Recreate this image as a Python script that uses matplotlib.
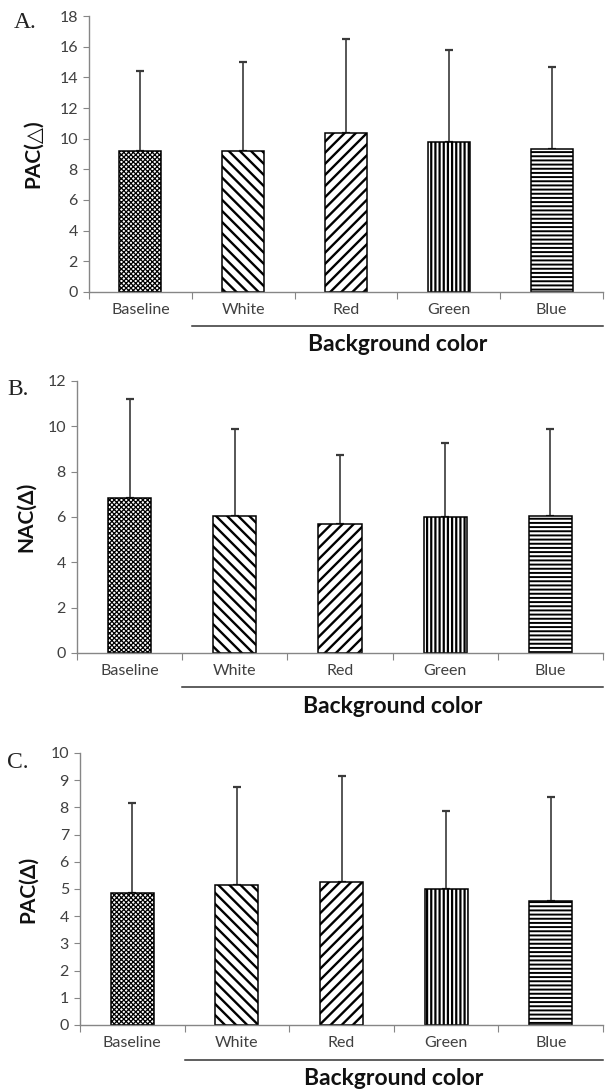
import matplotlib
matplotlib.use('Agg')
import matplotlib.pyplot as plt
import numpy as np

categories = ['Baseline', 'White', 'Red', 'Green', 'Blue']
hatches = ['xxxxxxx', '\\\\\\', '///', '||||', '----']
hatch_lw = [0.9, 1.7, 1.7, 1.6, 1.4]

pac_a_mean = [9.2, 9.2, 10.4, 9.8, 9.3]
pac_a_sd = [5.2, 5.8, 6.1, 6.0, 5.4]
nac_mean = [6.85, 6.05, 5.7, 6.0, 6.05]
nac_sd = [4.35, 3.85, 3.05, 3.25, 3.85]
pac_c_mean = [4.85, 5.15, 5.25, 5.0, 4.55]
pac_c_sd = [3.3, 3.6, 3.9, 2.85, 3.85]

plt.rcParams['font.family'] = ['Lato', 'DejaVu Sans']
plt.rcParams['hatch.color'] = 'black'

W, H = 609, 1092
fig = plt.figure(figsize=(W / 100, H / 100), dpi=100)


def px_axes(x0, x1, ytop, ybot):
    return fig.add_axes([x0 / W, 1 - ybot / H, (x1 - x0) / W, (ybot - ytop) / H])


panels = [
    # letter, ylabel, mean, sd, ymax, ystep, axes box, letter pos, label x, line y, title y
    ('A.', 'PAC(△)', pac_a_mean, pac_a_sd, 18, 2, (89, 603, 16, 292), (14, 22), -0.09, -0.122, -0.19),
    ('B.', 'NAC(Δ)', nac_mean, nac_sd, 12, 2, (77, 603, 381, 653), (7, 389), -0.077, -0.125, -0.195),
    ('C.', 'PAC(Δ)', pac_c_mean, pac_c_sd, 10, 1, (80, 603, 753, 1025), (7, 762), -0.081, -0.128, -0.195),
]

grey = '#868686'
txt = '#404040'

for letter, ylab, mean, sd, ymax, ystep, box, lpos, labx, liney, titley in panels:
    ax = px_axes(*box)
    x = np.arange(len(categories))
    for i in range(len(categories)):
        with plt.rc_context({'hatch.linewidth': hatch_lw[i]}):
            ax.bar(x[i], mean[i], width=0.41, color='white', edgecolor='black',
                   linewidth=1.1, hatch=hatches[i], zorder=2)
    ax.errorbar(x, mean, yerr=[np.zeros(len(sd)), sd], fmt='none', ecolor='#3a3a3a',
                elinewidth=1.2, capsize=3, capthick=1.6, zorder=1)
    ax.set_xlim(-0.5, 4.5)
    ax.set_ylim(0, ymax)
    ax.set_yticks(np.arange(0, ymax + 0.01, ystep))
    ax.set_xticks(np.arange(-0.5, 5, 1))
    ax.set_xticklabels([])
    ax.set_xticks(x, minor=True)
    ax.set_xticklabels(categories, minor=True)
    ax.tick_params(axis='x', which='major', length=5, color=grey, direction='out')
    ax.tick_params(axis='x', which='minor', length=0, pad=8, labelsize=11.5, labelcolor=txt)
    ax.tick_params(axis='y', length=4, color=grey, labelsize=11.5, labelcolor=txt, pad=4)
    for s in ['top', 'right']:
        ax.spines[s].set_visible(False)
    for s in ['left', 'bottom']:
        ax.spines[s].set_color(grey)
        ax.spines[s].set_linewidth(1.0)
    ax.set_ylabel(ylab, fontsize=15, fontweight='bold', color='#111111')
    ax.yaxis.set_label_coords(labx, 0.5)
    ax.plot([0.5, 4.5], [liney, liney], transform=ax.get_xaxis_transform(),
            color='#333333', linewidth=1.1, clip_on=False)
    ax.text(2.5, titley, 'Background color', transform=ax.get_xaxis_transform(),
            ha='center', va='center', fontsize=16.5, fontweight='bold', color='#111111')
    fig.text(lpos[0] / W, 1 - lpos[1] / H, letter, family='Liberation Serif',
             fontsize=17, ha='left', va='center', color='#222222')

fig.savefig('out.png', dpi=100)
